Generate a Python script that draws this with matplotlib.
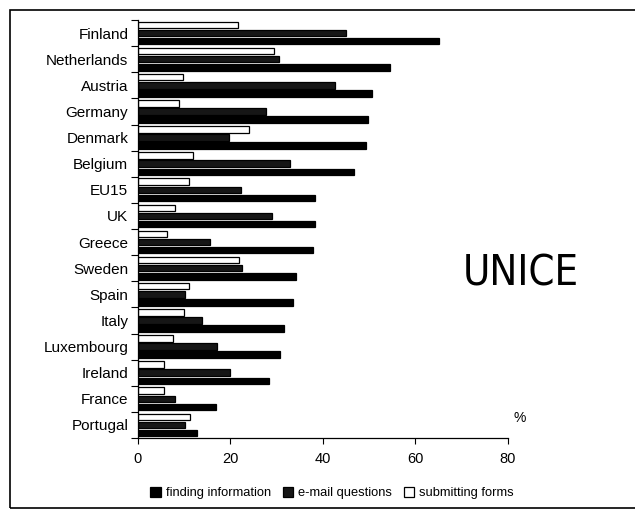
import numpy as np
import matplotlib.pyplot as plt
from matplotlib.patches import Rectangle

# data (percent)
countries = ["Finland", "Netherlands", "Austria", "Germany", "Denmark", "Belgium",
             "EU15", "UK", "Greece", "Sweden", "Spain", "Italy", "Luxembourg",
             "Ireland", "France", "Portugal"]
finding = [65, 54.5, 50.5, 49.8, 49.2, 46.6, 38.3, 38.2, 37.8, 34.2, 33.6, 31.5,
           30.7, 28.3, 16.8, 12.8]
email = [45, 30.5, 42.5, 27.7, 19.6, 32.8, 22.2, 29, 15.5, 22.4, 10.2, 13.9,
         17, 20, 8, 10.2]
forms = [21.6, 29.3, 9.7, 8.9, 24, 12, 11, 8, 6.3, 21.8, 11, 10, 7.6, 5.7, 5.7, 11.2]

plt.rcParams["font.family"] = ["Liberation Sans", "DejaVu Sans"]

fig = plt.figure(figsize=(6.35, 5.21), dpi=100)
ax = fig.add_axes([0.2173, 0.1593, 0.5827, 0.8023])

y = np.arange(len(countries))
h = 0.25
off = 0.31
ax.barh(y - off, forms, height=h, color="white", edgecolor="black", linewidth=0.9,
        label="submitting forms")
ax.barh(y, email, height=h, color="#161616", edgecolor="black", linewidth=0.9,
        label="e-mail questions")
ax.barh(y + off, finding, height=h, color="black", edgecolor="black", linewidth=0.9,
        label="finding information")

ax.set_ylim(len(countries) - 0.5, -0.5)
ax.set_xlim(0, 80)
ax.set_xticks([0, 20, 40, 60, 80])
ax.tick_params(axis="x", labelsize=10.5, length=4, direction="out", pad=6)

# ticks between groups, labels at group centres
ax.set_yticks(np.arange(len(countries) + 1) - 0.5)
ax.set_yticklabels([])
ax.set_yticks(y, minor=True)
ax.set_yticklabels(countries, minor=True, fontsize=11)
ax.tick_params(axis="y", which="major", length=5, direction="out")
ax.tick_params(axis="y", which="minor", length=0, pad=7)

for s in ["top", "right"]:
    ax.spines[s].set_visible(False)
ax.spines["left"].set_linewidth(0.9)
ax.spines["bottom"].set_linewidth(0.9)

fig.text(0.8205, 0.476, "UNICE", fontsize=30, family="DejaVu Sans",
         fontstretch="condensed", ha="center", va="center")
fig.text(0.818, 0.197, "%", fontsize=10, ha="center", va="center")

handles, labels = ax.get_legend_handles_labels()
order = [2, 1, 0]
fig.legend([handles[i] for i in order], [labels[i] for i in order],
           loc="center", bbox_to_anchor=(0.523, 0.054), ncol=3, frameon=False,
           fontsize=9.3, handlelength=0.8, handleheight=0.8, handletextpad=0.4,
           columnspacing=0.9)

fig.patches.append(Rectangle((10 / 635, 1 - 508 / 521), 640 / 635, 498 / 521,
                             transform=fig.transFigure, fill=False,
                             edgecolor="black", linewidth=1.2))

fig.savefig("out.png", dpi=100)
